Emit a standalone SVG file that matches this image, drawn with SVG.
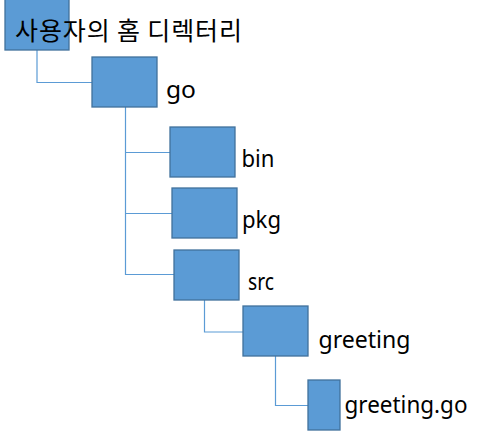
<svg xmlns="http://www.w3.org/2000/svg" width="483" height="432" viewBox="0 0 483 432">
<style>
.box{fill:#5B9BD5;stroke:#41719C;stroke-width:1.3}
.conn{fill:none;stroke:#5B9BD5;stroke-width:1.2}
.lbl{font-family:"Noto Sans","Noto Sans CJK KR",sans-serif;font-size:24px;fill:#000}
.kr{font-family:"Noto Sans CJK KR","Noto Sans",sans-serif;font-size:25px;fill:#000}
</style>
<rect width="483" height="432" fill="#fff"/>
<g id="connectors">
<path class="conn" d="M37,50 V82.5 H92"/>
<path class="conn" d="M125.5,107 V274.5 H174"/>
<path class="conn" d="M125.5,152.5 H170"/>
<path class="conn" d="M125.5,213.5 H172"/>
<path class="conn" d="M204.5,300 V332 H243"/>
<path class="conn" d="M275.5,356 V405.5 H308"/>
</g>
<g id="home">
<rect class="box" x="5" y="-1" width="64" height="51"/>
<text class="kr" x="15" y="40" textLength="227" lengthAdjust="spacing">사용자의 홈 디렉터리</text>
</g>
<g id="go">
<rect class="box" x="92" y="57" width="65" height="50"/>
<text class="lbl" x="166" y="98" textLength="30" lengthAdjust="spacingAndGlyphs">go</text>
</g>
<g id="bin">
<rect class="box" x="170" y="127" width="65" height="50"/>
<text class="lbl" x="241.5" y="167" textLength="33" lengthAdjust="spacingAndGlyphs">bin</text>
</g>
<g id="pkg">
<rect class="box" x="172" y="188" width="65" height="50"/>
<text class="lbl" x="242" y="227.5" textLength="39" lengthAdjust="spacingAndGlyphs">pkg</text>
</g>
<g id="src">
<rect class="box" x="174" y="250" width="65" height="50"/>
<text class="lbl" x="248" y="289.5" textLength="26" lengthAdjust="spacingAndGlyphs">src</text>
</g>
<g id="greeting">
<rect class="box" x="243" y="306" width="65" height="50"/>
<text class="lbl" x="318.5" y="347.5" textLength="92" lengthAdjust="spacingAndGlyphs">greeting</text>
</g>
<g id="greeting-go">
<rect class="box" x="308" y="380" width="32" height="50"/>
<text class="lbl" x="344.5" y="412.5" textLength="123" lengthAdjust="spacingAndGlyphs">greeting.go</text>
</g>
</svg>
